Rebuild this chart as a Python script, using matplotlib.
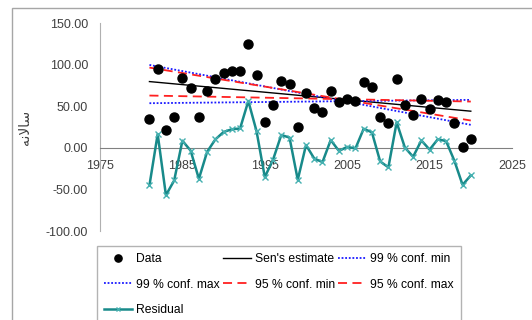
import matplotlib
matplotlib.use("Agg")
import matplotlib.pyplot as plt
from matplotlib.patches import Rectangle

plt.rcParams['font.family'] = ['Liberation Sans', 'DejaVu Sans']

years = list(range(1981, 2021))
data = [34.4, 95.2, 20.8, 37.6, 84.4, 71.6, 36.8, 68.4, 82.4, 90.4,
        92.8, 92.8, 124.8, 87.6, 31.6, 51.6, 80.4, 76.4, 24.8, 65.6,
        48.4, 43.2, 68.8, 54.8, 58.8, 56.0, 78.8, 73.6, 37.6, 29.6,
        82.8, 51.6, 39.6, 58.4, 46.4, 58.0, 54.8, 30.4, 0.4, 10.8]
residual = [-45.2, 16.5, -57.0, -39.3, 8.5, -3.4, -37.3, -4.8, 10.1, 19.0,
            22.3, 23.2, 56.2, 19.9, -35.2, -14.3, 15.4, 12.3, -38.4, 3.3,
            -12.9, -17.2, 9.3, -3.8, 1.1, -0.8, 22.9, 18.6, -16.4, -23.5,
            30.6, 0.3, -10.8, 8.9, -2.2, 10.3, 8.1, -15.4, -44.5, -33.2]
line_years = [1981, 2020]
sen = [79.6, 44.0]
conf99_min = [99.6, 27.6]
conf99_max = [53.6, 57.6]
conf95_min = [96.4, 32.8]
conf95_max = [62.8, 55.6]

xticks = [1975, 1985, 1995, 2005, 2015, 2025]
yticks = [-100, -50, 0, 50, 100, 150]
ylabel = "\uFEEA\uFEE7\uFEFB\uFE8E\uFEB3"  # سالانه

W, H = 532, 320
fig = plt.figure(figsize=(W / 100, H / 100), dpi=100)
fig.patches.append(Rectangle((12 / W, -0.5), 2.0, 1.5 - 8 / H,
                             transform=fig.transFigure, fill=False,
                             edgecolor='#a6a6a6', linewidth=1.0))
ax = fig.add_axes([100 / W, 1 - 231 / H, 412 / W, 208 / H])

ax.plot(years, data, 'o', color='black', markersize=6.5, label='Data', zorder=5)
ax.plot(line_years, sen, '-', color='black', lw=1.0, label="Sen's estimate", zorder=3)
ax.plot(line_years, conf99_min, color='#1a1aff', lw=1.3, ls=(0, (1, 1)), label='99 % conf. min', zorder=3)
ax.plot(line_years, conf99_max, color='#1a1aff', lw=1.3, ls=(0, (1, 1)), label='99 % conf. max', zorder=3)
ax.plot(line_years, conf95_min, color='#ff2020', lw=1.3, ls=(0, (5, 3)), label='95 % conf. min', zorder=3)
ax.plot(line_years, conf95_max, color='#ff2020', lw=1.3, ls=(0, (5, 3)), label='95 % conf. max', zorder=3)
ax.plot(years, residual, '-x', color='#188a8a', lw=1.8, markersize=4, mew=1.0,
        markeredgecolor='#45b0b0', label='Residual', zorder=4)

ax.set_xlim(1975, 2025)
ax.set_ylim(-100, 150)
ax.set_xticks(xticks)
ax.set_yticks(yticks)
ax.set_yticklabels([f"{v:.2f}" for v in yticks])
ax.set_xticklabels([str(v) for v in xticks])
ax.spines['top'].set_visible(False)
ax.spines['right'].set_visible(False)
ax.spines['left'].set_color('#b0b0b0')
ax.spines['bottom'].set_position(('data', 0))
ax.spines['bottom'].set_color('#808080')
ax.tick_params(axis='both', length=0, labelsize=9, colors='#404040')
ax.tick_params(axis='y', pad=8.6)
ax.tick_params(axis='x', pad=9)
ax.set_ylabel(ylabel, family=['DejaVu Sans'], fontsize=10, color='#404040')
ax.yaxis.set_label_coords(-0.165, 0.5)
ax.patch.set_alpha(0)

h, l = ax.get_legend_handles_labels()
order = [0, 3, 6, 1, 4, 2, 5]
leg = fig.legend([h[i] for i in order], [l[i] for i in order], ncol=3,
                 loc='upper left', bbox_to_anchor=(97 / W, 1 - 246 / H),
                 fontsize=8.7, frameon=True, fancybox=False, edgecolor='#a0a0a0',
                 handlelength=2.3, handletextpad=0.35, columnspacing=0.25,
                 labelspacing=1.1, borderpad=0.6, borderaxespad=0, markerscale=0.8)
leg.get_frame().set_linewidth(1.0)

fig.savefig('out.png', dpi=100)
